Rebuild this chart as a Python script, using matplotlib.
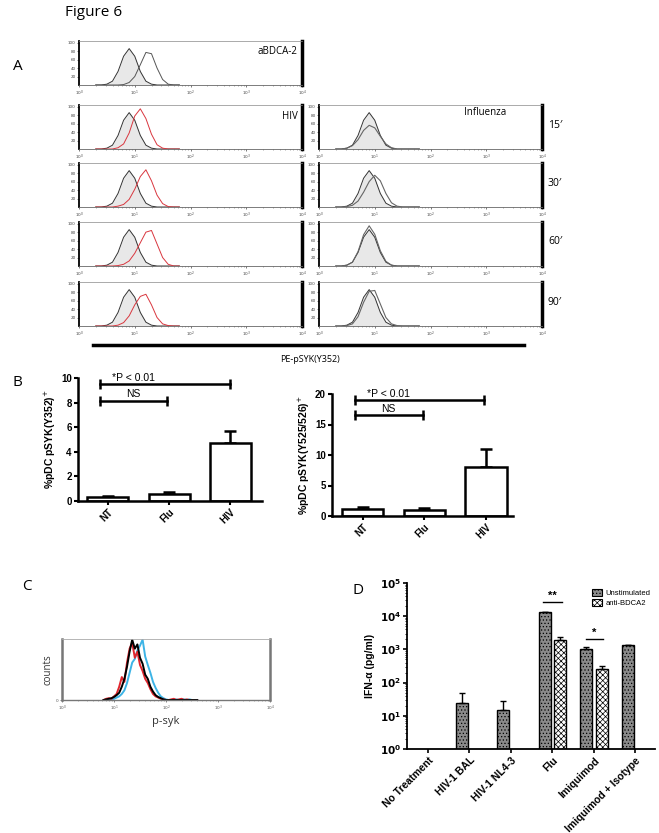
import numpy as np
import matplotlib
matplotlib.use("Agg")
import matplotlib.pyplot as plt
from matplotlib.patches import Patch

W, H = 659, 833
plt.rcParams['hatch.linewidth'] = 0.5

############## - Data - ######################################
# panel A : flow histograms (x = log10 of fluorescence, y = % of max)
grid_a = [0.3, 0.4, 0.5, 0.6, 0.7, 0.8, 0.9, 1.0, 1.1, 1.2, 1.3, 1.4, 1.5, 1.6, 1.7, 1.8]
ctrl = [0, 0, 2, 9, 32, 68, 86, 68, 32, 9, 2, 0, 0, 0, 0, 0]
abdca = [0, 0, 0, 0, 0, 1, 6, 20, 48, 77, 74, 40, 13, 2, 0, 0]
hiv_rows = [
    [0, 0, 0, 0, 3, 12, 38, 78, 95, 72, 35, 10, 2, 0, 0, 0],
    [0, 0, 0, 0, 2, 6, 18, 42, 72, 88, 62, 28, 8, 1, 0, 0],
    [0, 0, 0, 0, 1, 4, 12, 30, 55, 80, 84, 52, 20, 4, 0, 0],
    [0, 0, 0, 0, 2, 8, 24, 50, 70, 75, 50, 20, 5, 1, 0, 0],
]
flu_rows = [
    [0, 0, 2, 8, 22, 44, 56, 50, 30, 12, 3, 0, 0, 0, 0, 0],
    [0, 0, 1, 4, 14, 35, 60, 75, 62, 32, 10, 2, 0, 0, 0, 0],
    [0, 0, 2, 9, 34, 74, 95, 75, 36, 11, 2, 0, 0, 0, 0, 0],
    [0, 0, 1, 5, 22, 56, 82, 84, 52, 20, 5, 1, 0, 0, 0, 0],
]
time_labels = ["15\u2032", "30\u2032", "60\u2032", "90\u2032"]

# panel B
b_groups = ["NT", "Flu", "HIV"]
b352_mean = [0.35, 0.6, 4.7]
b352_err = [0.05, 0.15, 1.0]
b525_mean = [1.2, 1.0, 8.0]
b525_err = [0.2, 0.3, 3.0]

# panel C : p-syk histograms
grid_c = [0.80, 0.85, 0.90, 0.95, 1.00, 1.05, 1.10, 1.15, 1.20, 1.25, 1.30, 1.35,
          1.40, 1.45, 1.50, 1.55, 1.60, 1.65, 1.70, 1.75, 1.80, 1.85, 1.90, 1.95, 2.00,
          2.05, 2.10, 2.15, 2.20, 2.25, 2.30, 2.35, 2.40, 2.45, 2.50, 2.55, 2.60]
c_black = [0, 1, 2, 3, 5, 8, 12, 22, 35, 55, 80, 100,
           85, 92, 70, 60, 42, 35, 22, 14, 8, 5, 3, 1, 0,
           0, 0, 0, 0, 0, 0, 0, 0, 0, 0, 0, 0]
c_red = [0, 2, 3, 2, 6, 10, 22, 38, 30, 62, 85, 95,
         70, 80, 58, 48, 35, 28, 18, 10, 6, 4, 2, 1, 0,
         0, 1, 2, 0, 1, 2, 0, 1, 0, 0, 0, 0]
c_cyan = [0, 0, 1, 1, 2, 4, 6, 10, 16, 28, 45, 62,
          68, 82, 90, 100, 72, 58, 45, 30, 20, 12, 6, 3, 1,
          0, 0, 0, 1, 0, 1, 1, 0, 1, 0, 0, 0]

# panel D
d_groups = ["No Treatment", "HIV-1 BAL", "HIV-1 NL4-3", "Flu", "Imiquimod", "Imiquimod + Isotype"]
d_unstim = [None, 24.5, 15, 13400, 1020, 1350]
d_unstim_top = [None, 49, 28, 13700, 1150, 1380]
d_anti = [None, None, None, 1900, 257, None]
d_anti_top = [None, None, None, 2350, 316, None]


def box(l, t, r, b):
    return fig.add_axes([l / W, 1 - b / H, (r - l) / W, (b - t) / H])


def ftext(x, y, s, **kw):
    fig.text(x / W, 1 - y / H, s, **kw)


fig = plt.figure(figsize=(W / 100, H / 100), dpi=100)
letter = dict(family=['Open Sans', 'DejaVu Sans'], fontsize=11, va='center')
ftext(65, 13, "Figure 6", **letter)
ftext(13, 67, "A", **letter)
ftext(13, 382, "B", **letter)
ftext(22, 587, "C", **letter)
ftext(352, 590, "D", **letter)

############## - Panel A - ##################
xa = 10 ** np.array(grid_a)


def hist_axes(l, t, r, b):
    ax = box(l, t, r, b)
    ax.set_xscale('log')
    ax.set_xlim(1, 1e4)
    ax.set_ylim(0, 104)
    ax.set_yticks([20, 40, 60, 80, 100])
    ax.tick_params(labelsize=3, length=1.5, width=0.5, colors='#444', pad=1)
    ax.tick_params(which='minor', length=1, width=0.4, colors='#666')
    ax.spines['left'].set_linewidth(1.3)
    ax.spines['right'].set_linewidth(2.5)
    ax.spines['top'].set_linewidth(0.5)
    ax.spines['top'].set_color('#888')
    ax.spines['bottom'].set_linewidth(0.6)
    ax.spines['bottom'].set_color('#666')
    ax.fill_between(xa, ctrl, color='#e8e8e8', lw=0)
    ax.plot(xa, ctrl, color='#333', lw=0.7)
    return ax


ax = hist_axes(79, 41, 302, 85)
ax.plot(xa, abdca, color='#555', lw=0.7)
ax.text(0.98, 0.75, "aBDCA-2", transform=ax.transAxes, ha='right', va='center',
        fontsize=7, family=['Open Sans', 'DejaVu Sans'])

rows = [(105, 149), (163, 207), (222, 266), (282, 326)]
for i, (t, b) in enumerate(rows):
    axl = hist_axes(79, t, 302, b)
    axl.plot(xa, hiv_rows[i], color='#d9363e', lw=0.7)
    axr = hist_axes(319, t, 542, b)
    axr.plot(xa, flu_rows[i], color='#666', lw=0.8)
    ftext(548, (t + b) / 2 - 2, time_labels[i], fontsize=7.5, va='center',
          family=['Open Sans', 'DejaVu Sans'])
    if i == 0:
        axl.text(0.98, 0.73, "HIV", transform=axl.transAxes, ha='right', va='center',
                 fontsize=7, family=['Open Sans', 'DejaVu Sans'])
        axr.text(0.84, 0.82, "Influenza", transform=axr.transAxes, ha='right', va='center',
                 fontsize=7, family=['Open Sans', 'DejaVu Sans'])

fig.add_artist(plt.Line2D([93 / W, 524 / W], [1 - 345 / H, 1 - 345 / H], color='black', lw=2.5))
ftext(310, 360, "PE-pSYK(Y352)", ha='center', va='center', fontsize=6.5,
      family=['Open Sans', 'DejaVu Sans'])

############## - Panel B - ##################
bold = dict(family=['Liberation Sans', 'DejaVu Sans'], fontweight='bold')


def bar_panel(ax, means, errs, ylabel, p_y, ns_y, p_x, ns_x, tick_step, top):
    x = np.arange(len(b_groups))
    ax.bar(x, means, width=0.67, color='white', edgecolor='black', lw=1.8, zorder=2)
    ax.errorbar(x, means, yerr=[np.zeros(len(errs)), errs], fmt='none', ecolor='black',
                elinewidth=1.8, capsize=4.5, capthick=1.8, zorder=1)
    ax.set_ylim(0, top)
    ax.set_yticks(np.arange(0, top + 1, tick_step))
    ax.set_xticks(x)
    ax.set_xticklabels(b_groups, rotation=45, ha='right', va='top', rotation_mode='anchor', **bold)
    for lbl in ax.get_yticklabels():
        lbl.set_fontweight('bold')
        lbl.set_family(['Liberation Sans', 'DejaVu Sans'])
    ax.tick_params(labelsize=7, length=3, width=1.5, pad=1.5)
    for s in ['top', 'right']:
        ax.spines[s].set_visible(False)
    for s in ['left', 'bottom']:
        ax.spines[s].set_linewidth(1.8)
    ax.set_ylabel(ylabel, fontsize=7.5, labelpad=2, **bold)
    for yy, (x0, x1), txt in [(p_y, p_x, "*P < 0.01"), (ns_y, ns_x, "NS")]:
        ax.plot([x0, x1], [yy, yy], color='black', lw=1.8, marker='|', ms=7, mew=1.8,
                clip_on=False)
        ax.text(0.41, yy + top * 0.012, txt, ha='center', va='bottom', fontsize=7.5,
                family=['Liberation Sans', 'DejaVu Sans'])


ax = box(78, 378, 262, 501)
ax.set_xlim(-0.49, 2.52)
bar_panel(ax, b352_mean, b352_err, "%pDC pSYK(Y352)$^{+}$", 9.5, 8.15,
          (-0.13, 2.0), (-0.13, 0.97), 2, 10)

ax = box(332, 394, 513, 516)
ax.set_xlim(-0.5, 2.44)
bar_panel(ax, b525_mean, b525_err, "%pDC pSYK(Y525/526)$^{+}$", 19.0, 16.5,
          (-0.13, 1.97), (-0.13, 0.97), 5, 20)

############## - Panel C - ##################
ax = box(62, 639, 270, 700)
xc = 10 ** np.array(grid_c)
ax.plot(xc, c_cyan, color='#3db4e6', lw=1.4)
ax.plot(xc, c_red, color='#e0262e', lw=1.4)
ax.plot(xc, c_black, color='black', lw=1.4)
ax.set_xscale('log')
ax.set_xlim(1, 1e4)
ax.set_ylim(0, 101)
ax.set_yticks([0])
ax.tick_params(labelsize=3, length=1.5, width=0.5, colors='#555', pad=1)
ax.tick_params(which='minor', length=1, width=0.4, colors='#777')
for s in ['left', 'right']:
    ax.spines[s].set_linewidth(1.8)
    ax.spines[s].set_color('#777')
ax.spines['top'].set_linewidth(0.6)
ax.spines['top'].set_color('#aaa')
ax.spines['bottom'].set_linewidth(1.0)
ax.spines['bottom'].set_color('#777')
ax.set_ylabel("counts", fontsize=7, color='#333', labelpad=2, family=['Open Sans', 'DejaVu Sans'])
ax.set_xlabel("p-syk", fontsize=8, color='#333', labelpad=2, family=['Open Sans', 'DejaVu Sans'])

############## - Panel D - ##################
ax = box(407, 583, 655, 749)
ax.set_yscale('log')
ax.set_ylim(1, 1e5)
ax.set_xlim(-0.506, 5.47)
off, bw = 0.19, 0.29
un_style = dict(color='#8a8a8a', edgecolor='black', hatch='.....', lw=1.0)
an_style = dict(color='white', edgecolor='black', hatch='xxxxxx', lw=1.0)
for i in range(len(d_groups)):
    if d_unstim[i] is not None:
        ax.bar(i - off, d_unstim[i], width=bw, **un_style)
        ax.errorbar(i - off, d_unstim[i], yerr=[[0], [d_unstim_top[i] - d_unstim[i]]],
                    fmt='none', ecolor='black', elinewidth=1, capsize=2.5, capthick=1)
    if d_anti[i] is not None:
        ax.bar(i + off, d_anti[i], width=bw, **an_style)
        ax.errorbar(i + off, d_anti[i], yerr=[[0], [d_anti_top[i] - d_anti[i]]],
                    fmt='none', ecolor='black', elinewidth=1, capsize=2.5, capthick=1)
ax.set_xticks(range(len(d_groups)))
ax.set_xticklabels(d_groups, rotation=45, ha='right', va='top', rotation_mode='anchor',
                   fontsize=7.5, **bold)
ax.set_yticks([1, 10, 100, 1e3, 1e4, 1e5])
for lbl in ax.get_yticklabels():
    lbl.set_fontweight('bold')
ax.tick_params(labelsize=7.5, length=3, width=1.2, pad=1.5)
ax.tick_params(axis='y', which='minor', length=1.5, width=0.6)
for s in ['top', 'right']:
    ax.spines[s].set_visible(False)
for s in ['left', 'bottom']:
    ax.spines[s].set_linewidth(1.3)
ax.set_ylabel("IFN-\u03b1 (pg/ml)", fontsize=7.5, labelpad=3, **bold)

ax.plot([2.77, 3.23], [2.7e4, 2.7e4], color='black', lw=1)
ax.text(3.0, 2.9e4, "**", ha='center', va='bottom', fontsize=8, **bold)
ax.plot([3.81, 4.22], [2050, 2050], color='black', lw=1)
ax.text(4.015, 2200, "*", ha='center', va='bottom', fontsize=8, **bold)

handles = [Patch(facecolor='#8a8a8a', edgecolor='black', hatch='.....', lw=0.8),
           Patch(facecolor='white', edgecolor='black', hatch='xxxxxx', lw=0.8)]
ax.legend(handles, ["Unstimulated", "anti-BDCA2"], loc='upper right', frameon=False,
          handlelength=1.3, handleheight=0.9, labelspacing=0.3, handletextpad=0.5,
          borderaxespad=0.2, bbox_to_anchor=(1.0, 0.99),
          prop={'family': ['Liberation Sans', 'DejaVu Sans'], 'size': 5.5})

fig.savefig("out.png", dpi=100)
